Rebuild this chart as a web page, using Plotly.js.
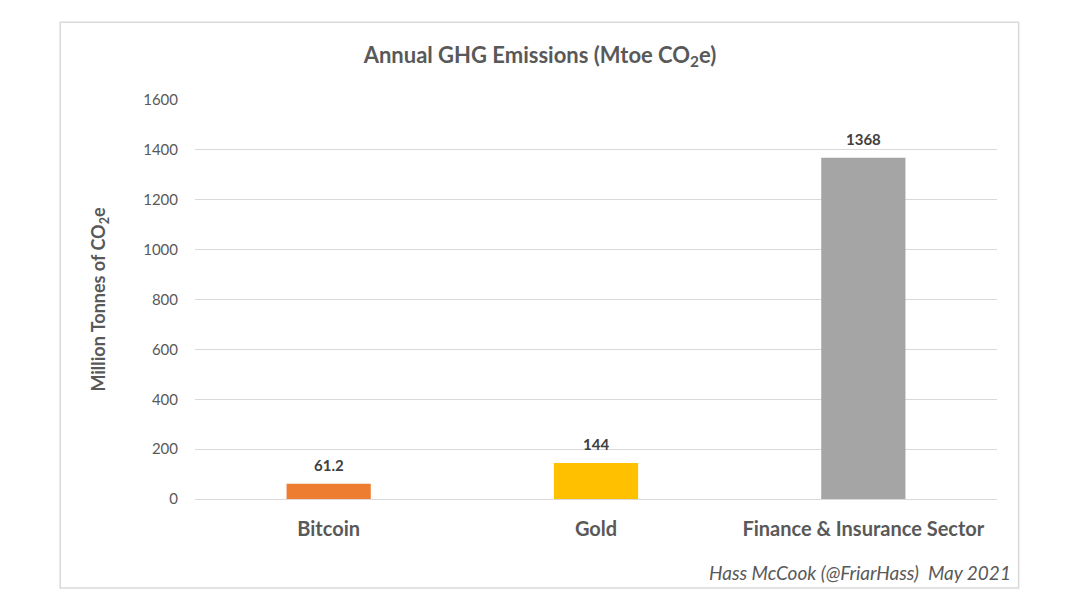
<!DOCTYPE html>
<html><head><meta charset="utf-8">
<script src="https://cdn.plot.ly/plotly-3.0.1.min.js"></script>
<style>body{margin:0;background:#fff}#c{width:1080px;height:590px}</style>
</head><body><div id="c"></div>
<script>
const categories = ["Bitcoin", "Gold", "Finance & Insurance Sector"];
const values = [61.2, 144, 1368];
const valueLabels = ["61.2", "144", "1368"];
const barColors = ["#ED7D31", "#FFC000", "#A5A5A5"];
const tickVals = [0, 200, 400, 600, 800, 1000, 1200, 1400, 1600];

const FONT = "Lato, 'Open Sans', sans-serif";
const trace = {
  type: "bar", x: categories, y: values,
  marker: {color: barColors},
  hoverinfo: "skip"
};
const valueAnn = categories.map((c, i) => ({
  x: c, y: values[i], xref: "x", yref: "y", text: "<b>" + valueLabels[i] + "</b>",
  showarrow: false, yanchor: "bottom", yshift: 8,
  font: {family: FONT, size: 15, color: "#404040"}
}));
const layout = {
  width: 1080, height: 590,
  margin: {l: 195, r: 83, t: 100, b: 91},
  paper_bgcolor: "#fff", plot_bgcolor: "#fff",
  bargap: 0.685, showlegend: false,
  title: {text: "<b>Annual GHG Emissions (Mtoe CO<sub>2</sub>e)</b>", x: 0.5, xanchor: "center",
          y: 0.907, yanchor: "middle", yref: "container",
          font: {family: FONT, size: 22, color: "#595959"}},
  xaxis: {tickfont: {family: FONT, size: 20, color: "#595959"}, ticklabelstandoff: 16,
          tickprefix: "<b>", ticksuffix: "</b>", showline: false, ticks: "", showgrid: false},
  yaxis: {range: [0, 1600], tickvals: tickVals, ticktext: tickVals.map(String),
          gridcolor: "#D9D9D9", gridwidth: 1, zeroline: true, zerolinecolor: "#D9D9D9",
          ticks: "", ticklen: 0, ticklabelstandoff: 16,
          tickfont: {family: FONT, size: 15, color: "#595959"},
          title: {text: "<b>Million Tonnes of CO<sub>2</sub>e</b>", standoff: 32,
                  font: {family: FONT, size: 18, color: "#595959"}}},
  shapes: [{type: "rect", xref: "paper", yref: "paper", x0: -0.168, x1: 1.027, y0: -0.223, y1: 1.195,
            line: {color: "#D9D9D9", width: 1.5}, fillcolor: "rgba(0,0,0,0)", layer: "below"}],
  annotations: valueAnn.concat([{text: "<i>Hass McCook (@FriarHass)  May 2021</i>", xref: "paper", yref: "paper",
                 x: 1.02, y: -0.183, xanchor: "right", yanchor: "middle", showarrow: false,
                 font: {family: FONT, size: 19, color: "#595959"}}])
};
Plotly.newPlot("c", [trace], layout, {displayModeBar: false, staticPlot: true});
</script></body></html>
